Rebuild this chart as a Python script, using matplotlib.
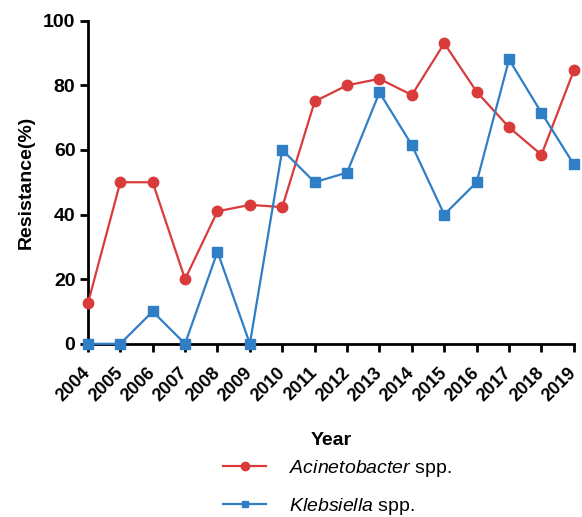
import numpy as np
from matplotlib import pyplot as plt

plt.rcParams['font.family'] = ['Liberation Sans', 'DejaVu Sans']
plt.rcParams['mathtext.fontset'] = 'custom'
plt.rcParams['mathtext.it'] = 'Liberation Sans:italic'
plt.rcParams['mathtext.rm'] = 'Liberation Sans'

years = list(range(2004, 2020))
acinetobacter = [12.5, 50, 50, 20, 41, 43, 42.3, 75, 80, 82, 77, 93, 78, 67, 58.5, 84.6]
klebsiella = [0, 0, 10, 0, 28.5, 0, 60, 50, 53, 77.8, 61.5, 40, 50, 88, 71.5, 55.5]

red = '#d93b3b'
blue = '#2f7ec6'

fig = plt.figure(figsize=(5.82, 5.17), dpi=100)
ax = fig.add_axes([0.151, 0.335, 0.835, 0.625])

ax.plot(years, acinetobacter, '-o', color=red, lw=1.6, ms=7.5, clip_on=False, zorder=3)
ax.plot(years, klebsiella, '-s', color=blue, lw=1.6, ms=6.5, clip_on=False, zorder=4)

ax.set_xlim(2004, 2019)
ax.set_ylim(0, 100)
ax.set_xticks(years)
ax.set_xticklabels([str(y) for y in years], rotation=45, ha='right', va='center',
                   rotation_mode='anchor', fontsize=13, fontweight='bold')
ax.set_yticks([0, 20, 40, 60, 80, 100])
ax.set_yticklabels(['0', '20', '40', '60', '80', '100'], fontsize=14, fontweight='bold')

for s in ['top', 'right']:
    ax.spines[s].set_visible(False)
for s in ['left', 'bottom']:
    ax.spines[s].set_linewidth(2)
ax.tick_params(width=2, length=6, direction='out', pad=3)
ax.tick_params(axis='x', pad=13)

ax.set_ylabel('Resistance(%)', fontsize=14, fontweight='bold', labelpad=6)
ax.set_xlabel('Year', fontsize=14, fontweight='bold', labelpad=20)

h1, = ax.plot([], [], '-o', color=red, lw=1.6, ms=6)
h2, = ax.plot([], [], '-s', color=blue, lw=1.6, ms=5)
fig.legend([h1, h2], [r'$Acinetobacter$ spp.', r'$Klebsiella$ spp.'],
           loc='center', bbox_to_anchor=(0.58, 0.057), ncol=1, frameon=False,
           fontsize=14, handlelength=2.2, labelspacing=0.85, handletextpad=1.2,
           borderpad=0.2)

fig.savefig('out.png', dpi=100)
